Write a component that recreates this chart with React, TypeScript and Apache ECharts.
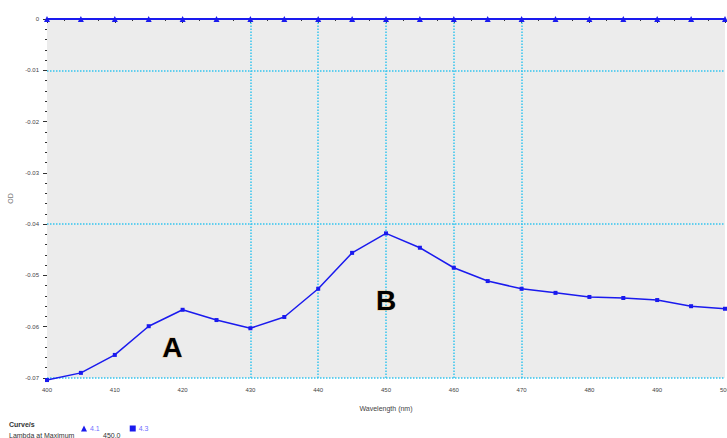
import React, { useEffect, useRef } from "react";
import * as echarts from "echarts";

const wavelengths = [400, 405, 410, 415, 420, 425, 430, 435, 440, 445, 450, 455, 460, 465, 470, 475, 480, 485, 490, 495, 500];
const od41 = [0, 0, 0, 0, 0, 0, 0, 0, 0, 0, 0, 0, 0, 0, 0, 0, 0, 0, 0, 0, 0];
const od43 = [-0.0704, -0.069, -0.0655, -0.0599, -0.0567, -0.0587, -0.0603, -0.0581, -0.0526, -0.0456, -0.0418, -0.0446, -0.0485, -0.0511, -0.0526, -0.0534, -0.0542, -0.0544, -0.0548, -0.056, -0.0565];
const seriesNames = ["4.1", "4.3"];
const gridX = [430, 440, 450, 460, 470];
const gridY = [-0.01, -0.04, -0.07];
const annotations = [
  { text: "A", x: 418.5, y: -0.064 },
  { text: "B", x: 450, y: -0.0548 },
];
const footerLabel = "Curve/s";
const footerRow2 = ["Lambda at Maximum", "450.0"];

export default function App() {
  const ref = useRef<HTMLDivElement>(null);
  useEffect(() => {
    document.body.style.margin = "0";
    const chart = echarts.init(ref.current!, null, { renderer: "svg" });
    const lineColor = "#1a1aee";
    const gridColor = "#33c4ee";
    const font = "Arial, 'Liberation Sans', sans-serif";
    chart.setOption({
      animation: false,
      textStyle: { fontFamily: font },
      grid: {
        left: 47,
        right: 2,
        top: 19,
        bottom: 60,
        show: true,
        backgroundColor: "#ececec",
        borderWidth: 0,
        outerBoundsMode: "none",
        containLabel: false,
      },
      legend: {
        left: 76,
        top: 420,
        itemWidth: 6,
        itemHeight: 6,
        itemGap: 30,
        data: [
          { name: seriesNames[0], icon: "triangle" },
          { name: seriesNames[1], icon: "rect" },
        ],
        textStyle: { fontSize: 7, color: "#7070ff", padding: [0, 0, 0, -2] },
      },
      graphic: [
        { type: "text", left: 9, top: 421, style: { text: footerLabel, fontSize: 7, fontWeight: "bold", fill: "#333", fontFamily: font } },
        { type: "text", left: 9, top: 432, style: { text: footerRow2[0], fontSize: 7, fill: "#333", fontFamily: font } },
        { type: "text", left: 103, top: 432, style: { text: footerRow2[1], fontSize: 7, fill: "#333", fontFamily: font } },
      ],
      xAxis: {
        type: "value",
        min: 400,
        max: 500,
        interval: 10,
        name: "Wavelength (nm)",
        nameLocation: "middle",
        nameGap: 27,
        nameTextStyle: { fontSize: 7, color: "#444" },
        axisLine: { show: false },
        axisTick: { show: true, length: 4, lineStyle: { color: "#333" } },
        minorTick: { show: true, splitNumber: 4, length: 2, lineStyle: { color: "#333" } },
        axisLabel: { fontSize: 6, color: "#444", margin: 9 },
        splitLine: { show: false },
      },
      yAxis: {
        type: "value",
        min: -0.07,
        max: 0,
        interval: 0.01,
        name: "OD",
        nameLocation: "middle",
        nameGap: 30,
        nameRotate: 90,
        nameTextStyle: { fontSize: 7, color: "#777" },
        axisLine: { show: false },
        axisTick: { show: true, length: 4, lineStyle: { color: "#333" } },
        minorTick: { show: true, splitNumber: 5, length: 2, lineStyle: { color: "#333" } },
        axisLabel: {
          fontSize: 6,
          color: "#444",
          margin: 8,
          formatter: (v: number) => (Math.abs(v) < 1e-9 ? "0" : v.toFixed(2)),
        },
        splitLine: { show: false },
      },
      series: [
        {
          name: seriesNames[0],
          type: "line",
          data: wavelengths.map((w, i) => [w, od41[i]]),
          symbol: "triangle",
          symbolSize: 6,
          color: lineColor,
          itemStyle: { color: lineColor },
          lineStyle: { color: lineColor, width: 2 },
          clip: false,
          z: 5,
        },
        {
          name: seriesNames[1],
          type: "line",
          data: wavelengths.map((w, i) => [w, od43[i]]),
          symbol: "rect",
          symbolSize: 4,
          color: lineColor,
          itemStyle: { color: lineColor },
          lineStyle: { color: lineColor, width: 1.5 },
          clip: false,
          z: 5,
          markLine: {
            silent: true,
            symbol: "none",
            label: { show: false },
            lineStyle: { type: "dotted", color: gridColor, width: 1.5 },
            z: 1,
            data: [
              ...gridX.map((x) => ({ xAxis: x })),
              ...gridY.map((y) => ({ yAxis: y })),
            ],
          },
          markPoint: {
            silent: true,
            symbol: "circle",
            symbolSize: 1,
            itemStyle: { color: "rgba(0,0,0,0)" },
            label: {
              show: true,
              position: "inside",
              fontSize: 28,
              fontWeight: "bold",
              color: "#000",
              fontFamily: font,
              textBorderColor: "rgba(230,160,60,0.5)",
              textBorderWidth: 1,
            },
            data: annotations.map((a) => ({ coord: [a.x, a.y], value: a.text, label: { formatter: a.text } })),
          },
        },
      ],
    });
    return () => chart.dispose();
  }, []);
  return <div ref={ref} style={{ position: "absolute", left: 0, top: 0, width: 727, height: 438 }} />;
}
